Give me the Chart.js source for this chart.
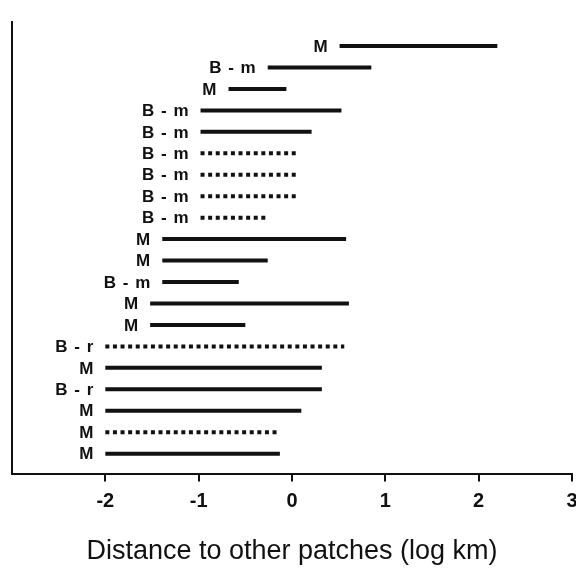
<!DOCTYPE html>
<html>
<head>
<meta charset="utf-8">
<script src="https://cdn.jsdelivr.net/npm/chart.js@4"></script>
<style>
html,body{margin:0;padding:0;background:#fff;}
#wrap{width:576px;height:568px;position:relative;}
</style>
</head>
<body>
<div id="wrap"><canvas id="c" width="576" height="568"></canvas></div>
<script>
// Patch types (row labels), top to bottom
const rowTypes = ['M','B - m','M','B - m','B - m','B - m','B - m','B - m','B - m','M','M','B - m','M','M','B - r','M','B - r','M','M','M'];
// Range of distances to other patches (log km)
const rangeStart = [0.51,-0.26,-0.68,-0.98,-0.98,-0.98,-0.98,-0.98,-0.98,-1.39,-1.39,-1.39,-1.52,-1.52,-2.0,-2.0,-2.0,-2.0,-2.0,-2.0];
const rangeEnd   = [2.20,0.85,-0.06,0.53,0.21,0.07,0.07,0.07,-0.27,0.58,-0.26,-0.57,0.61,-0.50,0.56,0.32,0.32,0.10,-0.13,-0.13];
// Dotted = true for rows drawn with a dotted line
const dotted = [false,false,false,false,false,true,true,true,true,false,false,false,false,false,true,false,false,false,true,false];
const xTicks = [-2,-1,0,1,2,3];
const xTitle = 'Distance to other patches (log km)';

const datasets = rowTypes.map((t, i) => ({
  label: t,
  data: [{x: rangeStart[i], y: i + 1}, {x: rangeEnd[i], y: i + 1}],
  showLine: true,
  borderColor: '#111',
  borderWidth: 4,
  borderCapStyle: 'butt',
  borderDash: dotted[i] ? [4, 3.6] : [],
  pointRadius: 0,
  pointHoverRadius: 0,
  fill: false
}));

const rowLabelPlugin = {
  id: 'rowLabels',
  afterDatasetsDraw(chart) {
    const {ctx, scales: {x, y}} = chart;
    ctx.save();
    ctx.fillStyle = '#111';
    ctx.font = 'bold 17px "Liberation Sans", Arial, sans-serif';
    if ('letterSpacing' in ctx) ctx.letterSpacing = '1px';
    ctx.textAlign = 'right';
    ctx.textBaseline = 'middle';
    rowTypes.forEach((t, i) => {
      ctx.fillText(t, x.getPixelForValue(rangeStart[i]) - 11, y.getPixelForValue(i + 1) + 1);
    });
    ctx.restore();
  }
};

new Chart(document.getElementById('c'), {
  type: 'scatter',
  data: {datasets},
  plugins: [rowLabelPlugin],
  options: {
    responsive: false,
    animation: false,
    events: [],
    layout: {padding: {left: 4, right: 4, top: 22, bottom: 0}},
    plugins: {legend: {display: false}, tooltip: {enabled: false}},
    scales: {
      x: {
        type: 'linear',
        min: -3, max: 3,
        afterBuildTicks(scale) { scale.ticks = [-3].concat(xTicks).map(v => ({value: v})); },
        afterFit(scale) { scale.paddingRight = 0; scale.paddingLeft = 0; },
        ticks: {
          color: '#111',
          font: {family: '"Liberation Sans", Arial, sans-serif', size: 20, weight: 'bold'},
          padding: 8,
          maxRotation: 0,
          autoSkip: false,
          callback: v => (v === -3 ? '' : String(v))
        },
        grid: {
          drawOnChartArea: false,
          drawTicks: true,
          tickLength: 8,
          lineWidth: 2,
          color: ctx => (ctx.tick && ctx.tick.value === -3 ? 'rgba(0,0,0,0)' : '#111')
        },
        border: {display: true, color: '#111', width: 2},
        title: {
          display: true,
          text: xTitle,
          color: '#111',
          font: {family: '"Liberation Sans", Arial, sans-serif', size: 27},
          padding: {top: 14, bottom: 0}
        }
      },
      y: {
        type: 'linear',
        reverse: true,
        min: -0.12, max: 20.93,
        ticks: {display: false},
        grid: {display: false},
        border: {display: true, color: '#111', width: 2}
      }
    }
  }
});
</script>
</body>
</html>
